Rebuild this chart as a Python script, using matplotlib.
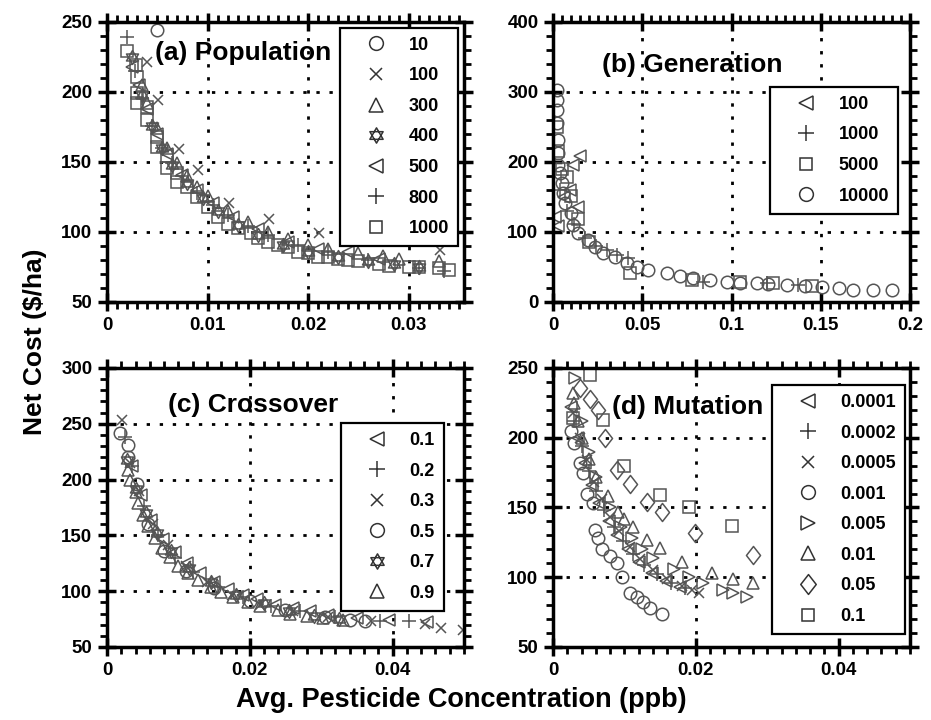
import matplotlib
matplotlib.use("Agg")
import matplotlib.pyplot as plt
from matplotlib.path import Path
from matplotlib.ticker import MultipleLocator

plt.rcParams["font.family"] = ["Liberation Sans", "DejaVu Sans"]
plt.rcParams["font.weight"] = "bold"

# ---------------- (a) Population ----------------
pop_labels = ["10", "100", "300", "400", "500", "800", "1000"]
pop_x = [
    [0.005],
    [0.004, 0.0051, 0.0072, 0.0091, 0.0121, 0.0161, 0.0211, 0.0331],
    [0.0035, 0.004, 0.005, 0.006, 0.007, 0.008, 0.009, 0.010, 0.012, 0.014,
     0.016, 0.018, 0.020, 0.022, 0.025, 0.0274, 0.029, 0.033],
    [0.0025, 0.0035, 0.0045, 0.0055, 0.0065, 0.008, 0.0095, 0.011, 0.013,
     0.015, 0.0175, 0.020, 0.023, 0.026, 0.0285, 0.031],
    [0.0025, 0.0032, 0.004, 0.005, 0.006, 0.0075, 0.009, 0.0105, 0.0125,
     0.015, 0.018, 0.021, 0.024, 0.027],
    [0.002, 0.0028, 0.0035, 0.0045, 0.0055, 0.0065, 0.0075, 0.009, 0.0105,
     0.012, 0.014, 0.016, 0.019, 0.022, 0.026, 0.031, 0.0335],
    [0.002, 0.0029, 0.003, 0.003, 0.003, 0.004, 0.004, 0.005, 0.005, 0.006,
     0.006, 0.007, 0.007, 0.008, 0.009, 0.010, 0.011, 0.012, 0.013, 0.0143,
     0.015, 0.016, 0.017, 0.018, 0.019, 0.020, 0.021, 0.022, 0.023, 0.024,
     0.025, 0.027, 0.028, 0.030, 0.031, 0.033, 0.034],
]
pop_y = [
    [244],
    [221, 194, 159, 144, 121, 109, 99, 87],
    [205, 192, 174, 160, 149, 140, 132, 126, 115, 107, 100, 95, 91, 88, 85,
     83, 81, 79],
    [225, 198, 176, 160, 148, 135, 124, 115, 105, 98, 91, 86, 82, 79, 77, 75],
    [218, 205, 188, 170, 156, 141, 130, 121, 111, 102, 93, 88, 86, 81],
    [239, 215, 196, 176, 160, 149, 140, 128, 119, 112, 104, 98, 91, 86, 80,
     74, 72],
    [229, 219, 211, 199, 192, 189, 180, 168, 161, 154, 146, 142, 136, 132,
     125, 118, 111, 106, 103, 99, 96, 93, 91, 89, 86, 85, 82, 82, 81, 80,
     79, 77, 76, 75, 75, 74, 73],
]

# ---------------- (b) Generation ----------------
gen_labels = ["100", "1000", "5000", "10000"]
gen_x = [
    [0.001, 0.003, 0.006, 0.0095, 0.011, 0.014, 0.015],
    [0.004, 0.008, 0.012, 0.018, 0.024, 0.030, 0.036, 0.042, 0.084, 0.120,
     0.137],
    [0.002, 0.003, 0.005, 0.008, 0.010, 0.014, 0.020, 0.043, 0.078, 0.105,
     0.123, 0.145],
    [0.0022, 0.0022, 0.0022, 0.0022, 0.0028, 0.0028, 0.0028, 0.004, 0.005,
     0.0056, 0.0067, 0.0098, 0.0112, 0.014, 0.0196, 0.0235, 0.0280, 0.0350,
     0.0415, 0.0470, 0.0532, 0.0640, 0.0712, 0.0785, 0.0880, 0.0975, 0.1047,
     0.1142, 0.1204, 0.1310, 0.1411, 0.1507, 0.160, 0.168, 0.179, 0.190],
]
gen_y = [
    [121, 108, 150, 160, 196, 136, 208],
    [160, 130, 112, 92, 80, 74, 67, 63, 29, 27, 24],
    [250, 215, 190, 179, 152, 118, 86, 42, 31, 29, 27, 23],
    [303, 288, 274, 256, 231, 213, 196, 184, 170, 156, 141, 127, 110, 99,
     89, 79, 70, 64, 56, 50, 46, 41, 37, 34, 31, 29, 27, 27, 26, 24, 23, 22,
     20, 17, 17, 17],
]

# ---------------- (c) Crossover ----------------
cross_labels = ["0.1", "0.2", "0.3", "0.5", "0.7", "0.9"]
cross_x = [
    [0.0035, 0.0048, 0.0062, 0.0078, 0.0095, 0.0112, 0.013, 0.015, 0.017,
     0.019, 0.021, 0.0235, 0.026, 0.0285, 0.031, 0.035, 0.0395, 0.0448],
    [0.0025, 0.0035, 0.0052, 0.0072, 0.0095, 0.012, 0.0155, 0.019, 0.023,
     0.027, 0.032, 0.0383, 0.0423],
    [0.0021, 0.0032, 0.0045, 0.0065, 0.0085, 0.011, 0.014, 0.0175, 0.0215,
     0.026, 0.031, 0.037, 0.0445, 0.0468, 0.0499],
    [0.0018, 0.003, 0.003, 0.0042, 0.0058, 0.008, 0.011, 0.015, 0.02, 0.025,
     0.0305, 0.034, 0.0362],
    [0.0028, 0.004, 0.0055, 0.007, 0.009, 0.0115, 0.0145, 0.018, 0.022,
     0.0255, 0.029, 0.0325],
    [0.003, 0.0032, 0.004, 0.0044, 0.005, 0.0058, 0.0067, 0.0077, 0.0088,
     0.010, 0.0114, 0.0128, 0.0145, 0.016, 0.0177, 0.0197, 0.0215, 0.0239,
     0.0257, 0.028, 0.0303, 0.0331],
]
cross_y = [
    [212, 186, 164, 147, 135, 125, 116, 108, 102, 97, 93, 88, 85, 82, 79,
     76, 74, 72],
    [238, 212, 176, 150, 130, 117, 104, 95, 87, 82, 77, 73, 73],
    [253, 215, 190, 160, 141, 123, 108, 97, 88, 82, 77, 73, 71, 67, 65],
    [242, 231, 220, 196, 160, 136, 118, 103, 91, 83, 77, 74, 73],
    [218, 192, 170, 152, 136, 121, 108, 97, 89, 82, 78, 75],
    [209, 200, 189, 179, 168, 158, 148, 139, 131, 123, 116, 110, 104, 99,
     95, 90, 87, 83, 80, 78, 76, 74],
]

# ---------------- (d) Mutation ----------------
mut_labels = ["0.0001", "0.0002", "0.0005", "0.001", "0.005", "0.01",
              "0.05", "0.1"]
mut_x = [
    [0.0025, 0.0035, 0.0045, 0.0055, 0.0065, 0.0078, 0.009, 0.0105, 0.012,
     0.0138, 0.0158, 0.0178],
    [0.003, 0.004, 0.005, 0.006, 0.0072, 0.0085, 0.0098, 0.0112, 0.0128,
     0.0145, 0.0165, 0.0185],
    [0.0028, 0.0038, 0.0048, 0.0058, 0.0068, 0.008, 0.0093, 0.0108, 0.0122,
     0.014, 0.016, 0.018, 0.0195, 0.0205],
    [0.0025, 0.003, 0.0038, 0.0042, 0.0048, 0.0056, 0.0059, 0.0063, 0.0069,
     0.008, 0.009, 0.0097, 0.0108, 0.0118, 0.0126, 0.0136, 0.0153],
    [0.0031, 0.004, 0.005, 0.006, 0.008, 0.0095, 0.011, 0.0125, 0.014, 0.017,
     0.019, 0.021, 0.0238, 0.0252, 0.0272],
    [0.0028, 0.003, 0.0035, 0.004, 0.005, 0.006, 0.0077, 0.0091, 0.010,
     0.0112, 0.0131, 0.015, 0.018, 0.0223, 0.0252, 0.028],
    [0.0038, 0.0052, 0.0063, 0.0073, 0.009, 0.0108, 0.0132, 0.0153, 0.0199,
     0.028],
    [0.0028, 0.0052, 0.007, 0.010, 0.015, 0.019, 0.025],
]
mut_y = [
    [222, 200, 182, 166, 153, 140, 130, 120, 111, 103, 97, 93],
    [212, 194, 176, 162, 148, 136, 126, 117, 109, 102, 96, 92],
    [218, 200, 184, 168, 156, 143, 133, 122, 113, 105, 99, 94, 91, 89],
    [205, 196, 182, 175, 160, 153, 134, 128, 120, 115, 110, 100, 89, 86, 82,
     78, 74],
    [243, 212, 190, 172, 150, 136, 128, 120, 114, 106, 100, 96, 91, 89, 86],
    [232, 225, 212, 200, 185, 172, 158, 147, 142, 136, 127, 121, 111, 103,
     99, 96],
    [236, 228, 220, 200, 177, 167, 154, 147, 132, 116],
    [214, 245, 213, 180, 159, 150, 137],
]

# six-pointed star (two overlapping triangles) for the 400 / 0.7 series
hexagram = Path(
    [(0, 1), (-0.866, -0.5), (0.866, -0.5), (0, 1),
     (0, -1), (-0.866, 0.5), (0.866, 0.5), (0, -1)],
    [Path.MOVETO, Path.LINETO, Path.LINETO, Path.CLOSEPOLY,
     Path.MOVETO, Path.LINETO, Path.LINETO, Path.CLOSEPOLY],
)
# slightly tall diamond
diamond = Path([(0, 1), (0.78, 0), (0, -1), (-0.78, 0), (0, 1)],
               [Path.MOVETO, Path.LINETO, Path.LINETO, Path.LINETO,
                Path.CLOSEPOLY])

grey = "#555555"
# per-marker sizes so x / + look like the original symbols
msize = {"x": 7.5, "+": 10, "s": 8.5}


def style_axis(ax, xlim, ylim, xmaj, xmin, ymaj, ymin):
    ax.set_xlim(*xlim)
    ax.set_ylim(*ylim)
    ax.xaxis.set_major_locator(MultipleLocator(xmaj))
    ax.xaxis.set_minor_locator(MultipleLocator(xmin))
    ax.yaxis.set_major_locator(MultipleLocator(ymaj))
    ax.yaxis.set_minor_locator(MultipleLocator(ymin))
    ax.xaxis.set_major_formatter(plt.FuncFormatter(lambda v, p: f"{v:g}"))
    ax.tick_params(which="major", direction="inout", length=13, width=2.5,
                   labelsize=13.5, top=True, right=True, pad=4)
    ax.tick_params(which="minor", direction="out", length=5, width=2,
                   top=True, right=True)
    for sp in ax.spines.values():
        sp.set_linewidth(2.5)
    ax.grid(True, which="major", color="black", linestyle=(0, (1.2, 3.5)),
            linewidth=2)
    for lab in ax.get_xticklabels() + ax.get_yticklabels():
        lab.set_fontweight("bold")


def draw(ax, xs, ys, labels, markers, title, tpos, lpos):
    for x, y, lab, m in zip(xs, ys, labels, markers):
        if m is diamond:
            ms = 13
        elif m is hexagram:
            ms = 10
        else:
            ms = msize.get(m, 9)
        ax.plot(x, y, linestyle="none", marker=m, markersize=ms,
                markerfacecolor="none", markeredgecolor=grey,
                markeredgewidth=1.1, label=lab)
    ax.text(tpos[0], tpos[1], title, transform=ax.transAxes, fontsize=19,
            fontweight="bold", va="center", ha="left")
    leg = ax.legend(loc="upper right", bbox_to_anchor=lpos, frameon=True,
                    fancybox=False, edgecolor="black", framealpha=1,
                    handlelength=3.0, handletextpad=0.3, borderpad=0.5,
                    labelspacing=0.75, borderaxespad=0, markerscale=1.1,
                    prop={"weight": "bold", "size": 13})
    leg.get_frame().set_linewidth(1.6)
    for h in leg.legend_handles:
        h.set_markeredgecolor("#333333")


fig = plt.figure(figsize=(9.31, 7.2), dpi=100)
ax_a = fig.add_axes([0.1149, 0.5806, 0.3835, 0.389])
ax_b = fig.add_axes([0.594, 0.5806, 0.3835, 0.389])
ax_c = fig.add_axes([0.1149, 0.1014, 0.3835, 0.3875])
ax_d = fig.add_axes([0.594, 0.1014, 0.3835, 0.3875])

draw(ax_a, pop_x, pop_y, pop_labels, ["o", "x", "^", hexagram, "<", "+", "s"],
     "(a) Population", (0.134, 0.889), (0.983, 0.979))
style_axis(ax_a, (0, 0.0355), (50, 250), 0.01, 0.001, 50, 10)

draw(ax_b, gen_x, gen_y, gen_labels, ["<", "+", "s", "o"],
     "(b) Generation", (0.137, 0.846), (0.966, 0.768))
style_axis(ax_b, (0, 0.2), (0, 400), 0.05, 0.005, 100, 20)

draw(ax_c, cross_x, cross_y, cross_labels, ["<", "+", "x", "o", hexagram, "^"],
     "(c) Crossover", (0.171, 0.867), (0.944, 0.803))
style_axis(ax_c, (0, 0.05), (50, 300), 0.02, 0.002, 50, 10)

draw(ax_d, mut_x, mut_y, mut_labels,
     ["<", "+", "x", "o", ">", "^", diamond, "s"],
     "(d) Mutation", (0.165, 0.86), (0.986, 0.939))
style_axis(ax_d, (0, 0.05), (50, 250), 0.02, 0.002, 50, 10)

fig.text(0.038, 0.525, "Net Cost ($/ha)", rotation=90, ha="center",
         va="center", fontsize=19, fontweight="bold")
fig.text(0.495, 0.028, "Avg. Pesticide Concentration (ppb)", ha="center",
         va="center", fontsize=19.5, fontweight="bold")

fig.savefig("out.png", dpi=100)
